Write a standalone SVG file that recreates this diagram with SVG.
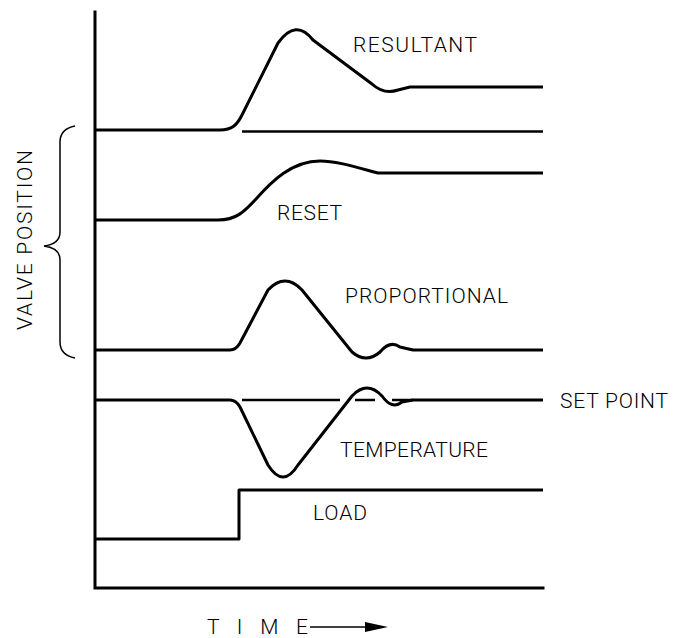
<svg xmlns="http://www.w3.org/2000/svg" width="677" height="638" viewBox="0 0 677 638">
<style>
.ax{fill:none;stroke:#000;stroke-width:3;stroke-linecap:square}
.cv{fill:none;stroke:#000;stroke-width:3;stroke-linejoin:round;stroke-linecap:butt}
.ref{fill:none;stroke:#000;stroke-width:2.5}
.lb{font-family:Roboto,"Liberation Sans",Arial,sans-serif;font-weight:300;font-size:21px;fill:#000}
</style>
<defs>
<marker id="ah" markerWidth="24" markerHeight="12" refX="0" refY="5" orient="auto" markerUnits="userSpaceOnUse">
<path d="M0,0 L23,5 L0,10 Z" fill="#000"/>
</marker>
</defs>
<rect width="677" height="638" fill="#fff"/>
<g id="axes">
<path class="ax" d="M95,12 V588 H543"/>
</g>
<g id="brace">
<path fill="none" stroke="#000" stroke-width="1.5" d="M75,126 Q60,129 60,142 V232 Q60,244 44,246 Q60,248 60,260 V342 Q60,355 75,358"/>
<text class="lb" transform="translate(32,240) rotate(-90)" text-anchor="middle" textLength="180" lengthAdjust="spacing">VALVE POSITION</text>
</g>
<g id="connectors">
<g id="resultant">
<path class="cv" d="M95,130 H220 C232,130 237,125 242,115 L278,43 Q296,18 313,40 L372,84 Q384,95 398,90 L410,87 H543"/>
<path class="ref" d="M242,131.5 H543"/>
<text class="lb" x="353" y="52" textLength="124" lengthAdjust="spacing">RESULTANT</text>
</g>
<g id="reset">
<path class="cv" d="M95,220 H218 C236,220 244,212 256,199 C272,181 292,161 320,161 C336,161 352,166 378,173 H543"/>
<text class="lb" x="277" y="220" textLength="65" lengthAdjust="spacing">RESET</text>
</g>
<g id="proportional">
<path class="cv" d="M95,350 H230 Q236,350 240,343 L268,290 Q285,272 302,290 L352,352 Q366,364 380,352 Q390,340 400,347 L413,350 H543"/>
<text class="lb" x="345" y="303" textLength="163" lengthAdjust="spacing">PROPORTIONAL</text>
</g>
<g id="temperature">
<path class="cv" d="M95,400 H230 Q236,400 240,407 L268,465 Q283,489 298,465 L352,396 Q367,380 382,396 Q392,410 402,402 L413,400 H543"/>
<path class="ref" d="M242,400 H340 M355,400 H375 M392,400 H413"/>
<text class="lb" x="340" y="457" textLength="148" lengthAdjust="spacing">TEMPERATURE</text>
<text class="lb" x="560" y="408" textLength="108" lengthAdjust="spacing">SET POINT</text>
</g>
<g id="load">
<path class="cv" d="M95,539 H239 V490 H543"/>
<text class="lb" x="313" y="520" textLength="54" lengthAdjust="spacing">LOAD</text>
</g>
</g>
<g id="time">
<text class="lb" x="207" y="634" textLength="101" lengthAdjust="spacing">T I M E</text>
<path d="M310,627 H365" stroke="#000" stroke-width="1.5" marker-end="url(#ah)"/>
</g>
</svg>
